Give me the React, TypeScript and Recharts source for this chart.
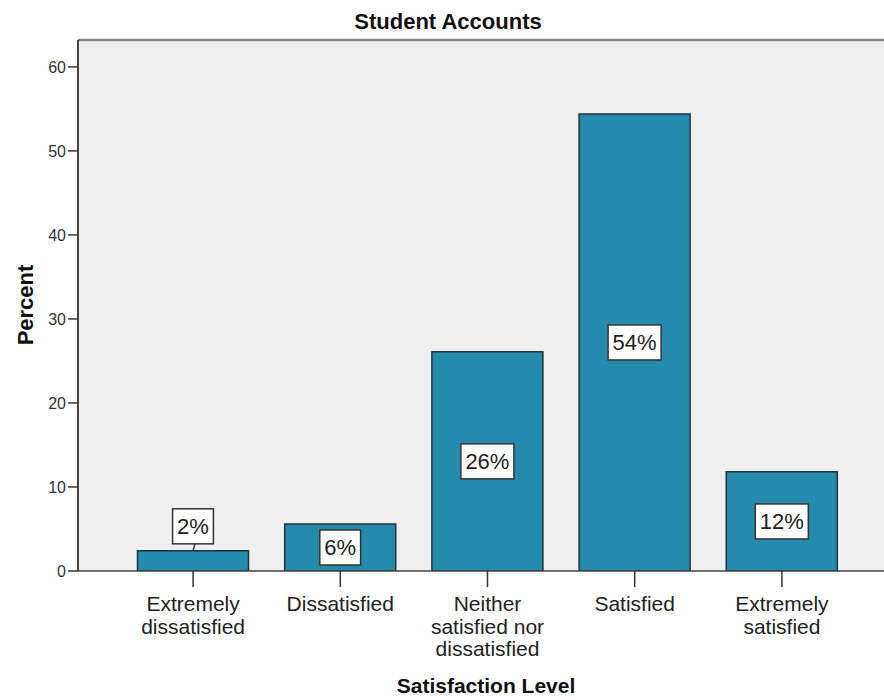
import React from 'react';
import {
    BarChart, Bar, XAxis, YAxis, CartesianGrid, ReferenceLine, LabelList,
} from 'recharts';

// Satisfaction categories (x axis), "\n" marks a line break in the tick label
const categories = [
    'Extremely\ndissatisfied',
    'Dissatisfied',
    'Neither\nsatisfied nor\ndissatisfied',
    'Satisfied',
    'Extremely\nsatisfied',
];

// Percent of respondents per category
const percents = [2.4, 5.6, 26.1, 54.4, 11.8];

const yTicks = [0, 10, 20, 30, 40, 50, 60];

const FONT = '"Liberation Sans", Arial, sans-serif';
const BAR_FILL = '#248bad';

const chartData = categories.map((name, i) => ({ name, value: percents[i] }));

const CategoryTick = (props: any) => {
    const { x, y, payload } = props;
    const lines = String(payload.value).split('\n');
    return (
        <text x={x} y={y} textAnchor="middle" fill="#222" fontSize={21} fontFamily={FONT}>
            {lines.map((line: string, i: number) => (
                <tspan key={i} x={x} dy={i === 0 ? 22 : 22.5}>{line}</tspan>
            ))}
        </text>
    );
};

// white boxed percent label, sits in the middle of the bar or above it when the bar is short
const PercentLabel = (props: any) => {
    const { x, y, width, height, value } = props;
    const text = `${Math.round(Number(value))}%`;
    const digits = text.length - 1;
    const boxW = 22 * (0.556 * digits + 0.889) + 9;
    const boxH = 35;
    const cx = Number(x) + Number(width) / 2;
    const small = Number(height) < 30;
    const cy = small ? Number(y) - 7 - boxH / 2 : Number(y) + Number(height) / 2;

    return (
        <g>
            {small && (
                <line x1={cx + 2} y1={cy + boxH / 2} x2={cx} y2={Number(y)} stroke="#333" strokeWidth={1.5} />
            )}
            <rect
                x={cx - boxW / 2}
                y={cy - boxH / 2}
                width={boxW}
                height={boxH}
                fill="#ffffff"
                stroke="#333"
                strokeWidth={1.5}
            />
            <text
                x={cx}
                y={cy + 8}
                textAnchor="middle"
                fill="#222"
                fontSize={22}
                fontFamily={FONT}
            >
                {text}
            </text>
        </g>
    );
};

const App = () => {
    return (
        <div style={{ position: 'absolute', left: 0, top: 0, width: 884, height: 700, overflow: 'hidden', background: '#fff' }}>
            <BarChart
                width={897}
                height={700}
                data={chartData}
                margin={{ top: 40, right: 0, bottom: 0, left: 0 }}
            >
                <CartesianGrid fill="#efefef" horizontal={false} vertical={false} />
                <ReferenceLine y={63.2} stroke="#888" strokeWidth={2.5} />
                <XAxis
                    dataKey="name"
                    height={129}
                    interval={0}
                    padding={{ left: 41.5, right: 41.5 }}
                    tickSize={16}
                    tickLine={{ stroke: '#333', strokeWidth: 1.5 }}
                    axisLine={{ stroke: '#444', strokeWidth: 1.5 }}
                    tick={<CategoryTick />}
                />
                <YAxis
                    width={78}
                    domain={[0, 63.2]}
                    ticks={yTicks}
                    interval={0}
                    allowDataOverflow
                    tickSize={10}
                    tickMargin={2}
                    tickLine={{ stroke: '#333', strokeWidth: 1.5 }}
                    axisLine={{ stroke: '#444', strokeWidth: 2 }}
                    tick={{ fill: '#333', fontSize: 16, fontFamily: FONT }}
                />
                <Bar
                    dataKey="value"
                    barSize={111}
                    fill={BAR_FILL}
                    stroke="#22313a"
                    strokeWidth={1.5}
                    isAnimationActive={false}
                >
                    <LabelList dataKey="value" content={<PercentLabel />} />
                </Bar>
            </BarChart>
            <svg
                width={884}
                height={700}
                style={{ position: 'absolute', left: 0, top: 0, pointerEvents: 'none' }}
            >
                <text x={448} y={29} textAnchor="middle" fontSize={22} fontWeight="bold" fontFamily={FONT} fill="#111">
                    Student Accounts
                </text>
                <text x={486} y={693} textAnchor="middle" fontSize={21} fontWeight="bold" fontFamily={FONT} fill="#111">
                    Satisfaction Level
                </text>
                <text
                    x={33}
                    y={305}
                    transform="rotate(-90, 33, 305)"
                    textAnchor="middle"
                    fontSize={22}
                    fontWeight="bold"
                    fontFamily={FONT}
                    fill="#111"
                >
                    Percent
                </text>
            </svg>
        </div>
    );
};

export default App;
